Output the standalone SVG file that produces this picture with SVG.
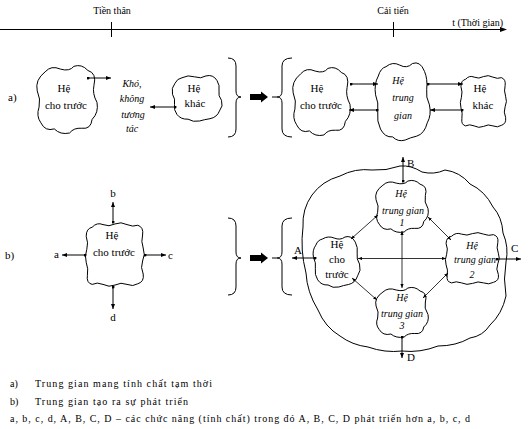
<svg xmlns="http://www.w3.org/2000/svg" xmlns:xlink="http://www.w3.org/1999/xlink" width="532" height="429" viewBox="0 0 532 429">
<style>
.t{font-family:"Liberation Serif","Times New Roman",serif;font-size:11px;fill:#000}
.s{font-size:10px}
.i{font-style:italic;font-size:10px}
.c{text-anchor:middle}
.ln{fill:none;stroke:#000;stroke-width:1}
.bl{fill:#fff;stroke:#000;stroke-width:1;vector-effect:non-scaling-stroke}
.ar{fill:none;stroke:#000;stroke-width:1;marker-end:url(#ah);marker-start:url(#dot)}
.ar2{fill:none;stroke:#000;stroke-width:0.8;marker-end:url(#ahs);marker-start:url(#ahs)}
</style>
<defs>
<marker id="ah" viewBox="0 0 10 10" refX="10" refY="5" markerWidth="5" markerHeight="5" orient="auto-start-reverse" markerUnits="userSpaceOnUse"><path d="M0,1 L10,5 L0,9 Z" fill="#000"/></marker>
<marker id="ahs" viewBox="0 0 10 10" refX="10" refY="5" markerWidth="4" markerHeight="4" orient="auto-start-reverse" markerUnits="userSpaceOnUse"><path d="M0,1 L10,5 L0,9 Z" fill="#000"/></marker>
<marker id="dot" viewBox="0 0 4 4" refX="2" refY="2" markerWidth="3" markerHeight="3" markerUnits="userSpaceOnUse"><circle cx="2" cy="2" r="2" fill="#000"/></marker>
<path id="blobA" class="bl" d="M12,8 Q20,0 30,4 Q40,8 50,3 Q60,-1 70,4 Q80,8 88,5 Q98,8 96,20 Q93,30 97,40 Q101,50 96,60 Q92,70 97,80 Q99,92 88,95 Q80,100 70,96 Q60,92 50,97 Q40,101 30,96 Q20,92 12,96 Q2,94 4,82 Q6,72 2,62 Q-1,52 3,42 Q6,32 2,22 Q2,10 12,8 Z"/>
<path id="blobB" class="bl" d="M15,10 Q25,0 40,6 Q55,10 62,2 Q75,-2 85,8 Q100,12 95,30 Q92,42 100,55 Q103,70 92,80 Q90,95 75,93 Q62,92 55,100 Q40,103 30,94 Q15,98 8,85 Q0,75 5,62 Q8,50 2,38 Q-2,22 15,10 Z"/>
<path id="blobC" class="bl" d="M20,6 Q32,-1 45,4 Q58,9 68,2 Q82,-2 90,12 Q96,22 94,35 Q92,45 99,55 Q103,68 95,78 Q90,92 76,95 Q64,97 55,100 Q42,103 32,96 Q18,97 10,86 Q3,76 5,64 Q7,52 1,42 Q-2,28 6,18 Q10,8 20,6 Z"/>
</defs>

<g id="timeline">
<line class="ln" x1="0" y1="29.5" x2="501" y2="29.5"/>
<path d="M500,27 L507,29.5 L500,32 Z" fill="#000"/>
<line class="ln" x1="111.5" y1="22" x2="111.5" y2="37"/>
<line class="ln" x1="393.5" y1="22" x2="393.5" y2="37"/>
<text class="t s c" x="112" y="14">Tiền thân</text>
<text class="t s c" x="393" y="14">Cải tiến</text>
<text class="t s" x="503" y="25.5" text-anchor="end">t (Thời gian)</text>
</g>

<text class="t" x="8" y="101">a)</text>
<text class="t" x="5" y="259">b)</text>

<g id="a-he-cho-truoc">
<use xlink:href="#blobB" transform="translate(36,65) scale(0.61,0.68)"/>
<text class="t c" x="64" y="92">Hệ</text>
<text class="t c" x="66" y="109">cho trước</text>
</g>
<g id="a-kho-khong-tuong-tac">
<text class="t i c" x="132" y="86.5">Khó,</text>
<text class="t i c" x="132" y="101.5">không</text>
<text class="t i c" x="133" y="117.5">tương</text>
<text class="t i c" x="132" y="131.5">tác</text>
</g>
<g id="a-he-khac">
<use xlink:href="#blobC" transform="translate(172,75) scale(0.50,0.46)"/>
<text class="t c" x="194" y="92">Hệ</text>
<text class="t c" x="195" y="107">khác</text>
</g>

<g id="a-he-cho-truoc-2">
<use xlink:href="#blobB" transform="translate(292,67) scale(0.58,0.68)"/>
<text class="t c" x="317" y="92">Hệ</text>
<text class="t c" x="321" y="109">cho trước</text>
</g>
<g id="a-he-trung-gian">
<use xlink:href="#blobC" transform="translate(375,62) scale(0.55,0.78)"/>
<text class="t i c" x="398" y="83.5">Hệ</text>
<text class="t i c" x="403" y="100.5">trung</text>
<text class="t i c" x="403" y="118.5">gian</text>
</g>
<g id="a-he-khac-2">
<use xlink:href="#blobA" transform="translate(460,75) scale(0.47,0.53)"/>
<text class="t c" x="480" y="92">Hệ</text>
<text class="t c" x="483" y="109">khác</text>
</g>

<g id="b-he-cho-truoc">
<use xlink:href="#blobA" transform="translate(85,222) scale(0.60,0.65)"/>
<text class="t c" x="112" y="239">Hệ</text>
<text class="t c" x="114" y="256">cho trước</text>
<text class="t" x="54" y="258">a</text>
<text class="t c" x="113" y="197">b</text>
<text class="t" x="168" y="259">c</text>
<text class="t c" x="113" y="321">d</text>
</g>

<g id="b-outer">
<path class="ln" d="M303,227 Q302,209 312,195 Q322,181 340,176 Q355,168 372,170 Q386,171 400,166 Q411,165 422,172 Q434,175 445,170 Q460,172 470,184 Q485,191 493,207 Q502,217 503,233 Q509,247 506,262 Q503,279 506,296 Q502,314 490,325 Q483,336 470,338 Q456,346 438,346 Q420,353 402,351 Q385,353 368,347 Q352,345 340,336 Q325,327 318,310 Q307,292 306,273 Q300,250 303,227 Z"/>
</g>
<g id="b-he-trung-gian-1">
<use xlink:href="#blobB" transform="translate(375,180) scale(0.53,0.52)"/>
<text class="t i c" x="401" y="196.5">Hệ</text>
<text class="t i c" x="403" y="213.5">trung gian</text>
<text class="t i c" x="402" y="225.5">1</text>
</g>
<g id="b-he-cho-truoc-2">
<use xlink:href="#blobC" transform="translate(313,236) scale(0.47,0.51)"/>
<text class="t c" x="337" y="248">Hệ</text>
<text class="t c" x="337" y="263">cho</text>
<text class="t c" x="337" y="278">trước</text>
</g>
<g id="b-he-trung-gian-2">
<use xlink:href="#blobA" transform="translate(445,232) scale(0.55,0.53)"/>
<text class="t i c" x="472" y="248.5">Hệ</text>
<text class="t i c" x="475" y="262.5">trung gian</text>
<text class="t i c" x="472" y="277.5">2</text>
</g>
<g id="b-he-trung-gian-3">
<use xlink:href="#blobB" transform="translate(375,287) scale(0.53,0.50)"/>
<text class="t i c" x="402" y="300.5">Hệ</text>
<text class="t i c" x="402" y="316.5">trung gian</text>
<text class="t i c" x="402" y="328.5">3</text>
</g>
<g id="b-labels">
<text class="t" x="294" y="254">A</text>
<text class="t" x="407" y="167">B</text>
<text class="t" x="511" y="252">C</text>
<text class="t" x="407" y="361">D</text>
</g>

<g id="connectors">
<line class="ar" x1="88" y1="78" x2="111" y2="78"/>
<line class="ar" x1="175" y1="107" x2="150" y2="107"/>
<line class="ar" x1="351" y1="84" x2="378" y2="84"/>
<line class="ar" x1="377" y1="110" x2="349" y2="110"/>
<line class="ar" x1="428" y1="84" x2="463" y2="84"/>
<line class="ar" x1="462" y1="110" x2="430" y2="110"/>
<line class="ar" x1="113" y1="222" x2="113" y2="202"/>
<line class="ar" x1="85" y1="255" x2="62" y2="255"/>
<line class="ar" x1="145" y1="255" x2="166" y2="255"/>
<line class="ar" x1="113" y1="287" x2="113" y2="309"/>
<line class="ar" x1="403" y1="181" x2="403" y2="157"/>
<line class="ar" x1="315" y1="258" x2="292" y2="258"/>
<line class="ar" x1="497" y1="259" x2="521" y2="259"/>
<line class="ar" x1="402" y1="337" x2="402" y2="358"/>
<line class="ar2" x1="358" y1="258.5" x2="446" y2="258.5"/>
<line class="ar2" x1="402" y1="231" x2="402" y2="288"/>
<line class="ar2" x1="351" y1="239" x2="378" y2="215"/>
<line class="ar2" x1="428" y1="217" x2="451" y2="240"/>
<line class="ar2" x1="352" y1="278" x2="377" y2="300"/>
<line class="ar2" x1="448" y1="273" x2="423" y2="298"/>
</g>

<g id="braces-a">
<path class="ln" d="M228,58 Q236,58 236,66 L236,91 Q236,97 241,97 Q236,97 236,103 L236,129 Q236,137 228,137"/>
<path d="M250,94 H261 V91.5 L268,97 L261,102.5 V100 H250 Z" fill="#000"/>
<path class="ln" d="M272,97 H277 M292,58 Q282,58 282,66 L282,91 Q282,97 277,97 Q282,97 282,103 L282,129 Q282,137 292,137"/>
</g>
<g id="braces-b">
<path class="ln" d="M228,218 Q236,218 236,226 L236,252 Q236,258 241,258 Q236,258 236,264 L236,287 Q236,295 228,295"/>
<path d="M250,255 H261 V252.5 L268,258 L261,263.5 V261 H250 Z" fill="#000"/>
<path class="ln" d="M272,258 H277 M292,218 Q282,218 282,226 L282,252 Q282,258 277,258 Q282,258 282,264 L282,287 Q282,295 292,295"/>
</g>

<g id="notes">
<text class="t s" x="10" y="387">a)</text>
<text class="t s" x="35" y="387" textLength="177" lengthAdjust="spacing">Trung gian mang tính chất tạm thời</text>
<text class="t s" x="10" y="405">b)</text>
<text class="t s" x="35" y="405" textLength="153" lengthAdjust="spacing">Trung gian tạo ra sự phát triển</text>
<text class="t s" x="10" y="422" textLength="460" lengthAdjust="spacing">a, b, c, d, A, B, C, D – các chức năng (tính chất) trong đó A, B, C, D phát triển hơn a, b, c, d</text>
</g>
</svg>
